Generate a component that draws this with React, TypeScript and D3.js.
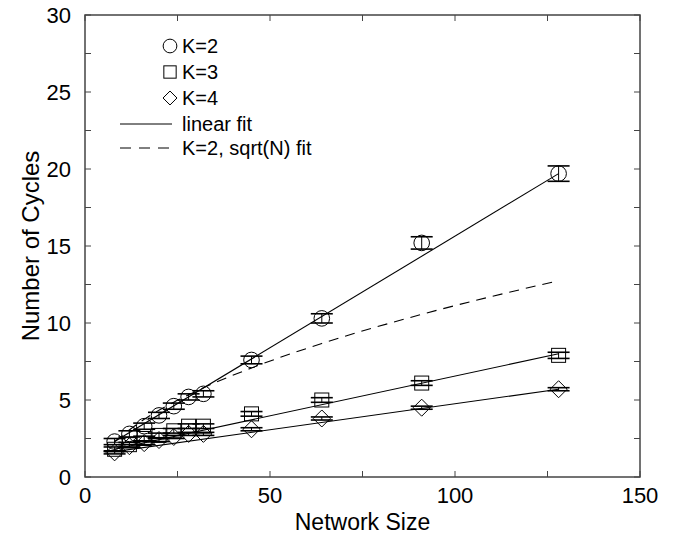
import * as d3 from "d3";
import React from "react";

// network sizes used for every K
const sizes = [8, 12, 16, 20, 24, 28, 32, 45, 64, 91, 128];

// mean number of cycles and error bar half heights
const k2 = [2.3, 2.8, 3.3, 4.0, 4.6, 5.2, 5.4, 7.6, 10.3, 15.2, 19.7];
const k2err = [0.2, 0.2, 0.2, 0.2, 0.2, 0.2, 0.2, 0.25, 0.3, 0.4, 0.5];
const k3 = [1.8, 2.1, 2.5, 2.7, 3.0, 3.3, 3.3, 4.1, 5.0, 6.1, 7.9];
const k3err = [0.15, 0.15, 0.15, 0.15, 0.15, 0.15, 0.15, 0.15, 0.15, 0.15, 0.2];
const k4 = [1.6, 2.0, 2.2, 2.4, 2.6, 2.8, 2.8, 3.1, 3.8, 4.5, 5.7];
const k4err = [0.1, 0.1, 0.1, 0.1, 0.1, 0.1, 0.1, 0.1, 0.1, 0.1, 0.1];

// linear fits: [N, cycles] at both ends
const fitK2: [number, number][] = [[8, 2.3], [128, 19.7]];
const fitK3: [number, number][] = [[8, 1.8], [128, 8.0]];
const fitK4: [number, number][] = [[8, 1.65], [128, 5.7]];
// sqrt(N) fit for K=2
const sqrtN = [8, 16, 24, 32, 45, 64, 91, 128];
const sqrtFit = [2.3, 3.75, 4.86, 5.79, 7.08, 8.67, 10.56, 12.75];

const xTicks = [0, 50, 100, 150];
const xMinor = [25, 75, 125];
const yTicks = [0, 5, 10, 15, 20, 25, 30];
const yMinor = [2.5, 7.5, 12.5, 17.5, 22.5, 27.5];

const legendItems = ["K=2", "K=3", "K=4", "linear fit", "K=2, sqrt(N) fit"];

const W = 681;
const H = 535;
const left = 85, right = 640, top = 15, bottom = 477;
const font = "'Liberation Sans', Arial, Helvetica, sans-serif";
const ink = "#000";

const x = d3.scaleLinear().domain([0, 150]).range([left, right]);
const y = d3.scaleLinear().domain([0, 30]).range([bottom, top]);

const line = d3.line<[number, number]>().x(d => x(d[0])).y(d => y(d[1]));
const curve = d3.line<[number, number]>().x(d => x(d[0])).y(d => y(d[1])).curve(d3.curveMonotoneX);

function Marker({ kind, cx, cy, s = 1 }: { kind: string; cx: number; cy: number; s?: number }) {
  if (kind === "circle") return <circle cx={cx} cy={cy} r={7.8 * s} fill="none" stroke={ink} strokeWidth={1} />;
  if (kind === "square") return <rect x={cx - 7 * s} y={cy - 7 * s} width={14 * s} height={14 * s} fill="none" stroke={ink} strokeWidth={1} />;
  const r = 8.5 * s;
  return <path d={`M${cx},${cy - r}L${cx + r},${cy}L${cx},${cy + r}L${cx - r},${cy}Z`} fill="none" stroke={ink} strokeWidth={1} />;
}

function Series({ vals, errs, kind }: { vals: number[]; errs: number[]; kind: string }) {
  return (
    <g>
      {sizes.map((n, i) => {
        const cx = x(n);
        const lo = y(vals[i] - errs[i]);
        const hi = y(vals[i] + errs[i]);
        return (
          <g key={i}>
            <Marker kind={kind} cx={cx} cy={y(vals[i])} />
            <line x1={cx} x2={cx} y1={lo} y2={hi} stroke={ink} strokeWidth={1} />
            <line x1={cx - 11} x2={cx + 11} y1={lo} y2={lo} stroke={ink} strokeWidth={1.6} />
            <line x1={cx - 11} x2={cx + 11} y1={hi} y2={hi} stroke={ink} strokeWidth={1.6} />
          </g>
        );
      })}
    </g>
  );
}

export default function App() {
  const tick = 6;
  const ly = 46;
  const rows = [46, 72, 98, 124, 148];
  return (
    <svg width={W} height={H} style={{ position: "absolute", left: 0, top: 0, background: "#fff" }} fontFamily={font}>
      <rect width={W} height={H} fill="#fff" />

      {/* fits */}
      <path d={line(fitK2) || ""} fill="none" stroke={ink} strokeWidth={1.1} />
      <path d={line(fitK3) || ""} fill="none" stroke={ink} strokeWidth={1.1} />
      <path d={line(fitK4) || ""} fill="none" stroke={ink} strokeWidth={1.1} />
      <path d={curve(sqrtN.map((n, i) => [n, sqrtFit[i]] as [number, number])) || ""} fill="none" stroke={ink} strokeWidth={1.1} strokeDasharray="10,7" />

      <Series vals={k2} errs={k2err} kind="circle" />
      <Series vals={k3} errs={k3err} kind="square" />
      <Series vals={k4} errs={k4err} kind="diamond" />

      {/* frame */}
      <rect x={left} y={top} width={right - left} height={bottom - top} fill="none" stroke="#444" strokeWidth={1.5} />
      {[...xTicks, ...xMinor].map(t => (
        <g key={"x" + t}>
          <line x1={x(t)} x2={x(t)} y1={bottom} y2={bottom - tick} stroke="#444" />
          <line x1={x(t)} x2={x(t)} y1={top} y2={top + tick} stroke="#444" />
        </g>
      ))}
      {[...yTicks, ...yMinor].map(t => (
        <g key={"y" + t}>
          <line x1={left} x2={left + tick} y1={y(t)} y2={y(t)} stroke="#444" />
          <line x1={right} x2={right - tick} y1={y(t)} y2={y(t)} stroke="#444" />
        </g>
      ))}
      {xTicks.map(t => (
        <text key={"xl" + t} x={x(t)} y={503} textAnchor="middle" fontSize={22} fill={ink}>{t}</text>
      ))}
      {yTicks.map(t => (
        <text key={"yl" + t} x={71} y={y(t) + 8} textAnchor="end" fontSize={22} fill={ink}>{t}</text>
      ))}
      <text x={(left + right) / 2} y={530} textAnchor="middle" fontSize={23} fill={ink}>Network Size</text>
      <text transform={`translate(39,${(top + bottom) / 2}) rotate(-90)`} textAnchor="middle" fontSize={24} fill={ink}>Number of Cycles</text>

      {/* legend */}
      <Marker kind="circle" cx={170} cy={rows[0]} s={0.88} />
      <Marker kind="square" cx={170} cy={rows[1]} s={0.88} />
      <Marker kind="diamond" cx={170} cy={rows[2]} s={0.82} />
      <line x1={120} x2={172} y1={rows[3]} y2={rows[3]} stroke={ink} strokeWidth={1} />
      <line x1={120} x2={172} y1={rows[4]} y2={rows[4]} stroke={ink} strokeWidth={1} strokeDasharray="11,8" />
      {legendItems.map((s, i) => (
        <text key={s} x={182} y={rows[i] + 7} fontSize={20} fill={ink}>{s}</text>
      ))}
    </svg>
  );
}
